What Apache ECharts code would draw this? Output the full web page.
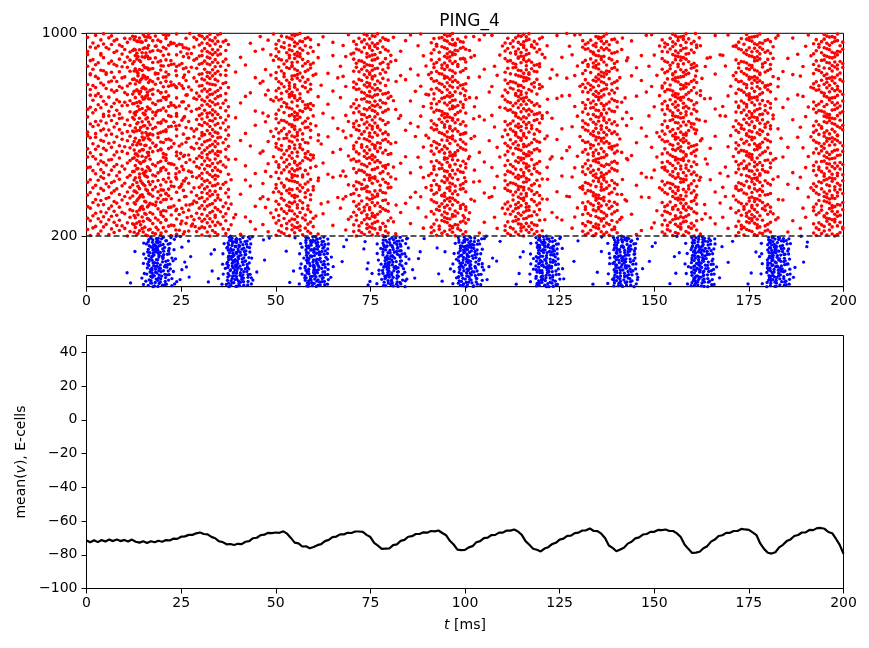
<!DOCTYPE html>
<html>
<head>
<meta charset="utf-8">
<script src="https://cdn.jsdelivr.net/npm/echarts@6/dist/echarts.min.js"></script>
<style>
html,body{margin:0;padding:0;background:#fff;}
#chart{width:869px;height:648px;}
</style>
</head>
<body>
<div id="chart"></div>
<script>
// ---------------- DATA ----------------
// Spike volleys of the E-cells (neurons 200..999). Each volley: a time (ms) and a code string,
// one character per neuron (in order). '.' = no spike; lowercase = offset (c-'m')*lowStep ms,
// uppercase = offset (C-'M')*upStep ms relative to the volley time.
const eVolleyTimes = [8, 21, 34, 55, 75.5, 96, 115.5, 136, 157, 176.5, 197];
const eCodes = [
 ["qcxjfualwrgnybkpdtheomvisaqlgwcnjyfbtrhk","dmuxpeioglsarwjcvnbkyfhtqmdxlagoeuirjwps","vbnfykcqtlhaxmgdrjuoeswipkbylvfcnahtqgxm","rjaewhnsxdkgpuybclotimfvqhawgrjkesnxbduy","lgtqcymoaiwebhrkpfnxsvdjulahqgwoytcemrbi","ykeoxbqsgjnhatvldwrfpcmiuyegkqaxnosbhjlt","hnwdtrjxmebyagckuoqfislvpnhrdmwyatjgxecq","sfaplvumkcxioewnqdhbtrgyjmkavsxfolpeuwci","cuiknrhgydtaxqobmwelsjfpvkcrdnyahquxtgbo","gxlrbmstpjweicofynkhadqvulxgmrpjbtskewyh"],
 ["fkbqi.hatmcrjgd.lexnpoawhbk.csgjmqfiudl.","aorhe.gkbmlcqjs.nfdpivhwgak.ebrlmoj.cthn","kdg.mbqjaflhnc.ripoekgs.dbmhtjalq.ncfwie","h.cnjerakgmdbq.lfsi.phonjc.kebvgrmal.dqt","mbl.fqhcjadkng.oireb.sphlka.cgmnuejd.qfh",".gjdkalbcmqhf.inoerg.bkjpdm.slahcf.tqnie","eqa.hbmjkcgdl.fnrpoi.ahbscjk.mgeqld.nfuh","c.kfmajgbhedq.lnsopir.kchmbg.ajdfle.qtni","ji.mbadkcghfe.qlnrops.hjakcm.bgiedf.lqnu","bd.gkhjcamfel.iqnsrop.dkbhja.mcgfei.nlqv"],
 ["kDhnaqBmjfclErpgiAhkdmsoFbjnlhqCeikgtmpd","jmBhqfkaolEcnirgmDpjhbkslqfAiemoCjgnhrbk","fnlCjqhdmkaBrioegjFlmhpnckqDiajsmhbfElng","mkrEhjdoclnaiBgmqfkjphDlnbeoiCkrmfjhqagn","cjmFhkonliBqegjdmrkAhlnfpbimjDkqgcnoelhr","iaknhmCejqlfdobrkEhmgjnpiBclkqfhmaojDrgl","nhjkAmdqilfbgoErkchmjnpDlaikqhfmeCjngobk","lqfBmjhndkiaorcEghmlkpjqDfnbimhkeaCjlqog","hmkjcnEqliafbdmoBrkgjhnlpiDemqfkcjaghnlo","dkmFjhqnlcibaeoAkgrmjhDpnlqkfibmejhCgnko"],
 ["kfpBismhcrgolEjqnmtohlarjfnsDkgqmlipeCnu","gqAmjdosilkfrhpnbkErjngwlpkmfoiscFhmqanl","msBhkqegojrlknfpitDiofqahnrmlkCsjgvlpdnm","plrEhfkbmqinlosgjuCngkcomifmpsjArlhqenkt","siqFlnrajhpgmkofkDhmowfrqlckBnpgijsmelnv","jpCgnkdhsomfiqrlmuElkspgjbqihmnfrAomcknl","fnaimpEogslqkrjhntqrjsBilpengdhomfkCmlbk","ohDlrjfcnskgqmipkwmshFkqgaojrlfnEpilmdnu","iofAqhnrbmksjglplCsiqtlnrjehpgmkBofnkdmo","rjngElpkafoishmqkvfnDimpogcslqkrjFhmlneo"],
 ["gqmjBosilfrhcpnkmplrhEfkmqinuosgjdlAknem","ngkoCmifpsjrlhqaljpgnvkhsomDfiqrlbmkFnco","hmeofrqlknpAgijstkkfpdismhrgoBljqnlmEnca","lkDspgjqbihmnfroukqrjsilCpnghoemfkAlnjdm","mshkqEgojrlafnpiknfnimtpogslBqkrjhcmDleo","siqlnrjbhpgmFkofmohlrjfnskdgqmipwEknlAcj","ioCfqhnrmksjglpenhmoDfrqlknupgijsamBlkno","qrjsilEpnghomfkclrjnglpkfvoishmqFkmbnAjl","pDlrhfkmqinosgjamlkspgjqtihmnfroBkclEmne","kfpiAsmhrgoljqnlbngkomEifpsjrlhquCnmkdjo"],
 ["ohlrBjfnskgqmipcnfnimpogEslqkrjhtmlAkdno","rjnglpCkfoishmqaksiqlnrjDhpgmkofulnmEbkj","jpgnkhFsomfiqrldmiofqhnrmkvsjglpBlncAkme","hmofErqlknpgijsbmgqmjosCilfrhpnktlkaDnmo","ngAkomifpsjrlhqckkfpismhBrgoljqnuemlFndk","qrjsilpnDghomfkamshkqgEojrlfnpivnkmlbCjo","lkspgjqihBmnfrocnplrhfkmqiEnosgjwkmAlned","gqmjoFsilfrhpnkbmqrjsilpnghoDmfktlnkCaej","iofqhnrmkEsjglpdljpgnkhsomBfiqrlumkcAnol","fnimCpogslqkrjhaonhmofrqlDknpgijsvlmEkbn"],
 ["mshkqgDojrlfnpiclhmofrqlknpEgijsukmnAbjo","plrhfkBmqinosgjeknohlrjfnskgqCmiptlmFkan","siqlnErjhpgmkofbmlkspgjqihmnDfrovknAjlcm","kfpismhrgoCljqnaniofqhnrmkEsjglpwmlkdBno","fnimpDogslqkrjhcmngkomifpsjrFlhqulnkeCmj","gqmAjosilfrhpnkbljpgnkhsomfiqErltnkmDjao","qrjsilpnghomfkdCsiqlnrjhpgmkofvlmBnkeAjl","rjngFlpkfoishmqaklkspgjqihmnfrownmDlkcjo","hmofrqlknEpgijsbnqrjsilpnghomAfkukmlCdnj","ohlrjfBnskgqmipemplrhfkmqinDosgjtnlkaEmo"],
 ["jpgnkhsomfAiqrlbkrjnglpkfoishmqEtmnlDcko","iofqhnCrmksjglpdlgqmjosilfrhpnkvBmlknaFj","lkspgjqDihmnfroemkfpismhrgoljqnuAlnkbmEj","ngkomifpsjrlhqcBfnimpogslqkrjhwklEmnCdjo","ohlrjfnsFkgqmipaqrjsilpnghomfkDtmnlkeBjo","siqlnrjhpgmEkofbmmshkqgojrlfnpiuCnlkdAmj","hmoBfrqlknpgijscnngkomifpsjrlhqDvlmkEanj","plrhfkmqinosgjAeliofqhnrmksjglpFtknmcDlo","fnimpogsClqkrjhdkohlrjfnskgqmipwEmnlkbAj","qrjsilpnghomfkaBjpgnkhsomfiqrlumlknDceoF"],
 ["rjnDglpkfoiEshmqbmplrhfkmqcinosgjuklnAmo","kfpCismhrgdoljqnjpgnkhvsomfiqBrlnmklaEjo","msAhkqgojrlfnpielkspDgjqihmnfrtonmkbFljo","siqlEnrjhpcgmkofgqmjoswilfrhpnkmlBnkdjoC","iofqhAnrmksjglpbmqrjsilpDnghomfkunlkeFjo","ngkodmifpsjrlEhqhmBofrqlknpgitjsCmnlkajo","gqmjBosilfrhpnkcohlrjfnsAkgqmipvlmnkDejo","lkspFgjqihmnfrobfnimpogslqkErjhuklmnCdjo","jpgnkhsomfiqDrlasiqlnrjhpgBmkofwnmlkEcjo","plrhfkmqAinosgjemshkqgojrClfnpitlmnkFbjo"],
 ["fnimBpogslqkrjhcniofqhnrEmksjglpunlkDamj","ohlrCjfnskgqmipdlsiqlnrjhFpgmkofvnmkAlbeo","qrjsilEpnghomfkakfpismhrgoljqnDtlmnBkcjo","hmoFfrqlknpgijsbmjpgnkhsomfiqrlCunlkeAjo","lkspgjqihmnfDrocnngkomifpsjBrlhqwmlkEdjo","rjAnglpkfoishmqemshkqgojrlCfnpitknmlbFjo","plrhfkmqinEosgjagqmjosilfrhpnkuDlmnkcBjo","kfpismBhrgoljqndqrjsilpnghomfkvnlkmAejoE","iofqhnrmksjglpCblkspgjqihmnfrotmDnlkaFjo","siqlnrjhpgmkofeBfnimpogslqkrjhuklmnEcjoA"],
 ["ngkomifpDsjrlhqagqmjosilfrhpnkEtmnlkBcjo","jpgnAkhsomfiqrlbmfnimpogslqkrjhCvlnmkdjo","mshkqgojrlfnpiFernglpkDfoishmqjuknmlaBjo","gqmjoEsilfrhpnkchmofrqlknpgijsAwlmnkCdjo","plrhfkmqinosgjbDsiqlnrjhpgmkoftnlkmFejo","ohlrjfnskgqmBipaiofqhnrmksjglpEunmlkcjoA","lkspgjqihmnfroCdjpgnkhsomfiqrlvDlmnkbjoF","qrjsilpnghomfkeBohlrjfnskgqmiptklnmAajoE","kfpisCmhrgoljqnbhmofrqlknpgijsuDmlnkejoF","fnimpogslqkrjhAcplrhfkmqinosgjwEnlmkBdjo"]
];
// Spike volleys of the I-cells (neurons 0..199), same coding, plus a fine digit (tenths of a step) per neuron.
const iVolleyTimes = [19, 40, 60.5, 81, 101, 121.5, 142, 162.5, 182.5];
const iCodes = [
 ["km.lqjn.ohpr.mkFjl.nsoi.kmpjt.lnq.hmokw.",".jnlk.mpqoi.hkmE.ljnr.pomk.ujlq.nkim.pvo","lm.kjonp.qi.hmkl.Tnjo.rpk.mlj.sniq.okm.x","nk.jmlo.phq.kmjn.ilGo.pmk.rjln.qkm.ouj.l",".mjkn.lopi.qhm.knjl.Uopm.kjr.nlmk.qoj.ts"],
 ["jlm.nkop.ihq.mjkl.nEop.mkjr.lnm.gkoq.pjn","m.kljn.opqh.jmkn.lsop.Fmj.kln.qoim.kjp.l",".nkmj.loph.imkq.jnl.ompk.Tjl.nkm.roqj.mk","kjm.lnop.dhmk.jlnq.omp.kjlG.nmk.oiqj.plm","ln.kmjo.pqh.kjm.nlo.pmkj.uln.qmkU.ojpr.k"],
 [".mkjl.nop.qhkm.jlFn.opmk.jlnq.mko.ijpr.m","kln.jmo.pqik.mjnl.opk.Gmjl.nqk.mohj.plns","jm.knl.opqh.mkjn.loTp.mkj.lnqm.koi.jpr.l",".lkmj.nop.hqmk.jln.oEpm.kjl.nqm.okj.ipvn","mkj.lnop.qhm.kjnl.opm.kjlU.nqm.okfj.plm."],
 ["qo.mkj.e.lnph.km.ojn.Glqk.pm.ir.jnt.kml.",".oj.nkm.lph.fjm.kqno.l.mjh.sk.Fpnl.omj.k","njp.l.mkoi.jq.eklm.n.opj.hmk.rlT.nkj.omq","l.kmo.j.npqh.lk.mjvn.opl.k.mjE.inr.omk.j","pkm.jl.nohq.jml.k.dno.pkjm.l.qUr.nmo.jk."],
 ["ln.okj.mq.pkh.jn.lmo.kFj.qn.sml.pkoi.jm.","j.mlok.npq.Ekm.lj.onh.pkm.r.jlg.nmo.kjqt","okm.j.ln.phq.jmk.o.lnTj.pmk.i.qlnu.okj.m",".mnj.kol.pqh.jk.mlGo.nj.kpm.ql.ojc.nmk.l","kjl.o.mnpq.i.kmj.loUn.pkj.m.lqr.onj.km.s"],
 ["nmo.j.kl.pqE.mjo.kln.h.pjm.ok.lqs.jnm.ko",".kjl.omn.pqh.F.lmk.jon.pl.kmj.iqr.nom.jl","mo.jnk.lp.qhjm.k.onl.Tpjm.ko.l.nqi.jmk.dp","jlk.m.onp.hqk.jml.oGn.pk.jml.oq.r.nkj.mlo","o.mkj.nlpq.h.jmkl.on.Upk.jl.mnq.koj.r.lm"],
 ["pm.jk.onl.Eq.hkj.m.nol.pkj.mqi.lo.nkjr.m","k.lmn.jpo.qh.mlk.Fjon.kp.lmj.oqs.nk.jml.",".onm.kjl.pqhi.mk.jonT.lp.kmj.on.lqh.jkm.","jk.lmon.p.qhk.jm.lnGo.pkm.jlo.nq.kjm.olv","mlo.kj.n.pqh.Ukjm.ol.npk.jml.qo.nkj.fm.l"],
 ["on.mjk.lpq.hE.kmj.onl.pk.jm.qln.okjs.m.l",".kml.jno.pq.hFk.mjl.on.pkm.jql.nok.jm.ri","jmk.on.lpqh.km.jTol.n.pkm.jl.qno.kjm.l.d","l.nkj.mop.qh.kGm.jlon.pk.mjl.q.nok.jmlt.","mkj.lon.pq.h.kjm.loUn.pkj.ml.qon.kj.m.le"],
 ["jlm.k.onp.qEh.km.jlon.p.kmj.lq.nok.jmr.l","o.kmjl.np.qh.mFkj.lo.npk.mj.lqo.nkj.s.ml",".mnk.jlo.pqh.kmj.Tlon.pk.mjl.qn.okj.ml.g","kj.mln.opqh.k.mjlG.onp.kmj.l.qno.kjm.lw.","nm.o.kjl.pqh.kmjU.lo.npk.jm.lqo.nk.jml.u"]
];
const iFine = [
 ["7302918465183720946157390284617293058461","2951847306628401957340716382954013869275","4069381572905172648391364028571939402681","8513702946047361895220837461593071852946","1648293075736295018449120637858402619373"],
 ["5829014736290845163738162049571406392817","0374629185652093817442719305680935281647","9160387254184625093773081546292760413958","3497158026508379241661943027851248305679","6025841937937206418550372981640583169240"],
 ["2716493058413058279664928103752871940536","8493026175036271849515783904628154027963","1057382946729480163532605187494306189752","6281547039248135970687049326151692740385","9348015627570932486121836740598017352648"],
 ["4185036297601392475833958160270487631529","9273840516845106739221470839566950218473","3640192875197628340559281604372130694857","7852601394320587914676143075288495703216","0519463782681930542748502613497263189504"],
 ["6931572048372805164910436927583815942067","1408629375850917342667283041594028756391","5284903167291634085709158362470693487125","8067315942463089721533617208948170235964","2795148630907452613814692501376541069832"],
 ["3570281946158943620772049136854921073685","0813964527605271839443860927152480315697","7260498351439572068118423057694732165048","4126853790920148756335718690427067183529","9685027413847362095156293418708395240716"],
 ["8041627359256183790463510284976143852097","2937584106730621945889047312653602718954","6159207834478259136012863749051971864320","4703916285061397428535927610849260437168","1862039547312846057914058376290833071496"],
 ["5374019286980256317427146893053752948106","1690832457634710928582375019463869205341","9028471563048391576215908634722014386795","2461597308170562984331629708455795031628","7853260149926148035760417295389406217853"],
 ["0716258349485032617992384167050361492875","6349701582713968024517023859461740253869","2587430916059213847664178920352185794036","8935164702346807591209561347828673910524","4102863597827159430638420691735429068173"]
];
const E_RANGE = [200, 1000];
const I_RANGE = [0, 200];
const E_STEP = { low: 0.7, up: 1.3 };   // ms per code step, E-cells
const I_STEP = { low: 0.8, up: 1.0 };   // ms per code step, I-cells
const EI_BOUNDARY = 200;

// Mean membrane potential of E-cells (mV), sampled every 1 ms from t = 0 to 200.
const V_STEP_MS = 1;
const vMean = [
-71.6,-72.6,-71.4,-72.5,-71.3,-72.1,-71.0,-71.9,-70.9,-71.9,
-71.2,-72.1,-71.0,-72.3,-72.8,-72.0,-73.0,-72.0,-72.6,-71.7,
-72.3,-71.3,-71.5,-70.4,-70.6,-69.3,-69.1,-68.2,-68.2,-67.3,
-66.8,-67.7,-67.9,-69.4,-70.2,-72.0,-72.5,-73.8,-73.6,-74.2,
-73.5,-73.7,-72.3,-71.9,-70.2,-69.9,-68.4,-68.1,-67.0,-67.2,
-66.8,-67.0,-66.1,-67.5,-70.0,-72.8,-73.2,-75.1,-75.0,-76.1,
-75.4,-74.3,-73.7,-71.9,-71.2,-69.5,-69.2,-67.9,-67.9,-67.0,
-67.1,-66.2,-66.2,-66.4,-68.2,-69.5,-72.9,-74.6,-76.5,-76.4,
-76.3,-74.3,-73.8,-71.8,-71.2,-69.3,-69.0,-67.7,-67.7,-66.7,
-66.9,-65.9,-66.1,-65.6,-67.1,-68.4,-71.7,-73.9,-76.9,-77.2,
-77.1,-75.6,-74.9,-72.6,-71.9,-70.1,-69.8,-68.3,-68.2,-66.9,
-66.9,-65.6,-65.7,-65.0,-66.2,-68.2,-71.9,-74.1,-76.4,-77.0,
-78.0,-76.3,-75.5,-73.7,-72.9,-71.0,-70.4,-68.8,-68.7,-67.2,
-66.9,-65.6,-65.5,-64.4,-65.9,-66.0,-67.5,-70.1,-74.5,-75.9,
-77.9,-76.9,-75.9,-73.4,-72.3,-70.3,-69.7,-68.0,-67.7,-66.4,
-66.4,-65.3,-65.4,-65.0,-65.9,-65.9,-67.3,-69.5,-73.9,-76.5,
-78.9,-78.7,-78.2,-76.1,-74.9,-72.2,-71.0,-68.9,-68.4,-67.0,
-67.0,-65.9,-65.9,-64.7,-65.0,-65.2,-66.7,-68.3,-73.3,-76.5,
-78.8,-79.3,-78.5,-75.6,-74.1,-71.9,-70.9,-68.9,-68.3,-66.8,
-66.7,-65.3,-65.4,-64.2,-64.1,-64.6,-66.5,-67.2,-70.5,-74.1,
-79.4
];
const tTicks = [0, 25, 50, 75, 100, 125, 150, 175, 200];
const rasterTicks = [200, 1000];
const vTicks = [-100, -80, -60, -40, -20, 0, 20, 40];

// ---------------- BUILD ----------------
function offsetOf(ch, step) {
  const c = ch.charCodeAt(0);
  return c >= 97 ? (c - 109) * step.low : (c - 77) * step.up;
}
function decode(times, codes, fine, range, step, alternate) {
  const pts = [];
  const span = range[1] - range[0];
  times.forEach((t0, k) => {
    const code = codes[k].join('');
    const fn = fine ? fine[k].join('') : '';
    const n = code.length;
    for (let j = 0; j < n; j++) {
      const ch = code[j];
      if (ch === '.') continue;
      const idx = range[0] + Math.floor(j * span / n) + (alternate ? (k % 2) : 0);
      let t = t0 + offsetOf(ch, step);
      if (fn && j < fn.length) t += (Number(fn[j]) / 10 - 0.45) * step.low;
      pts.push([t, idx]);
    }
  });
  return pts;
}
const eData = decode(eVolleyTimes, eCodes, null, E_RANGE, E_STEP, true);
const iData = decode(iVolleyTimes, iCodes, iFine, I_RANGE, I_STEP, false);
const vData = vMean.map((v, i) => [i * V_STEP_MS, v]);

const FONT = 'DejaVu Sans';
const fmtNum = v => (v < 0 ? '\u2212' + Math.abs(v) : String(v));
function xAxisCfg(gridIndex, withName) {
  const a = {
    type: 'value', gridIndex, min: 0, max: 200, interval: 25,
    axisLine: { show: true, onZero: false, lineStyle: { color: '#000', width: 1 } },
    axisTick: { show: true, length: 5, lineStyle: { color: '#000', width: 1 }, customValues: tTicks },
    axisLabel: { color: '#000', fontSize: 14, fontFamily: FONT, margin: 8, customValues: tTicks, formatter: fmtNum },
    splitLine: { show: false }
  };
  if (withName) {
    a.name = '{it|t} [ms]';
    a.nameLocation = 'middle';
    a.nameGap = 30;
    a.nameTextStyle = { color: '#000', fontSize: 14, fontFamily: FONT,
      rich: { it: { fontStyle: 'italic', fontSize: 14, fontFamily: FONT, color: '#000' } } };
  }
  return a;
}

const option = {
  animation: false,
  backgroundColor: '#fff',
  title: {
    text: 'PING_4', left: 464.5, top: 8, textAlign: 'center',
    textStyle: { color: '#000', fontSize: 17, fontWeight: 'normal', fontFamily: FONT }
  },
  grid: [
    { left: 86.5, top: 33.3, width: 757, height: 253.4, show: true, borderColor: '#000', borderWidth: 1, backgroundColor: 'transparent', containLabel: false },
    { left: 86.5, top: 335.5, width: 757, height: 253, show: true, borderColor: '#000', borderWidth: 1, backgroundColor: 'transparent', containLabel: false }
  ],
  xAxis: [xAxisCfg(0, false), xAxisCfg(1, true)],
  yAxis: [
    {
      type: 'value', gridIndex: 0, min: 0, max: 1000, interval: 200,
      axisLine: { show: true, onZero: false, lineStyle: { color: '#000', width: 1 } },
      axisTick: { show: true, length: 5, lineStyle: { color: '#000', width: 1 }, customValues: rasterTicks },
      axisLabel: { color: '#000', fontSize: 14, fontFamily: FONT, margin: 9, customValues: rasterTicks, formatter: fmtNum },
      splitLine: { show: false }
    },
    {
      type: 'value', gridIndex: 1, min: -100, max: 50, interval: 20,
      axisLine: { show: true, onZero: false, lineStyle: { color: '#000', width: 1 } },
      axisTick: { show: true, length: 5, lineStyle: { color: '#000', width: 1 }, customValues: vTicks },
      axisLabel: { color: '#000', fontSize: 14, fontFamily: FONT, margin: 9, customValues: vTicks, formatter: fmtNum },
      splitLine: { show: false },
      name: 'mean({it|v}), E-cells', nameLocation: 'middle', nameGap: 56, nameRotate: 90,
      nameTextStyle: { color: '#000', fontSize: 14, fontFamily: FONT,
        rich: { it: { fontStyle: 'italic', fontSize: 14, fontFamily: FONT, color: '#000' } } }
    }
  ],
  series: [
    {
      type: 'scatter', xAxisIndex: 0, yAxisIndex: 0, data: eData,
      symbol: 'circle', symbolSize: 3.6, large: false, progressive: 0, silent: true,
      itemStyle: { color: '#ff0000', opacity: 1 }, clip: true
    },
    {
      type: 'scatter', xAxisIndex: 0, yAxisIndex: 0, data: iData,
      symbol: 'circle', symbolSize: 3.3, large: false, progressive: 0, silent: true,
      itemStyle: { color: '#0000ff', opacity: 1 }, clip: true,
      markLine: {
        silent: true, symbol: ['none', 'none'], label: { show: false }, animation: false,
        lineStyle: { color: '#222', type: [6, 3], width: 1.5 },
        data: [{ yAxis: EI_BOUNDARY }]
      }
    },
    {
      type: 'line', xAxisIndex: 1, yAxisIndex: 1, data: vData,
      showSymbol: false, symbol: 'none', silent: true,
      lineStyle: { color: '#000', width: 2.2 }
    }
  ]
};
const chart = echarts.init(document.getElementById('chart'), null, { renderer: 'canvas' });
chart.setOption(option);
</script>
</body>
</html>
